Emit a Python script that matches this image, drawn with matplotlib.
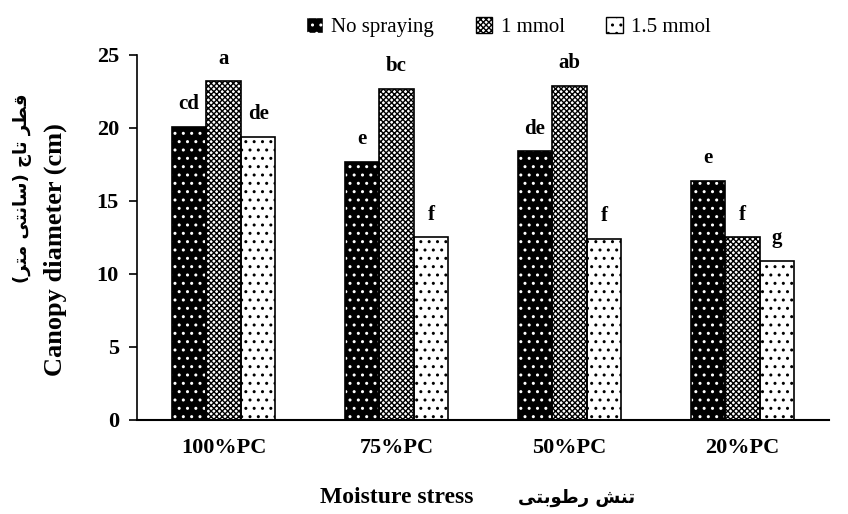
import numpy as np
import matplotlib.pyplot as plt
from matplotlib.patches import Patch

plt.rcParams['font.family'] = ['Liberation Serif', 'DejaVu Sans']
plt.rcParams['hatch.linewidth'] = 1.0

# data
groups = ['100%PC', '75%PC', '50%PC', '20%PC']
series = ['No spraying', '1 mmol', '1.5 mmol']
no_spray = [20.1, 17.7, 18.4, 16.4]
mmol_1 = [23.2, 22.7, 22.9, 12.5]
mmol_15 = [19.4, 12.5, 12.4, 10.9]
letters_no = ['cd', 'e', 'de', 'e']
letters_1 = ['a', 'bc', 'ab', 'f']
letters_15 = ['de', 'f', 'f', 'g']

# Persian text written in shaped presentation forms, visual order
ylabel_fa = ('(\uFEAE\uFE98\uFEE3 \uFEF0\uFE98\uFEE7\uFE8E\uFEB3) '
             '\uFE9D\uFE8E\uFE97 \uFEAE\uFEC4\uFED7')
xlabel_fa = '\uFEF0\uFE98\uFE91\uFEEE\uFEC3\uFEAD \uFEB6\uFEE8\uFE97'

fig = plt.figure(figsize=(8.48, 5.14), dpi=100)
ax = fig.add_axes([0.1616, 0.183, 0.816, 0.71])

x = np.arange(len(groups))
w = 0.2
styles = [
    dict(face='black', hatchcol='white', hatch='..'),
    dict(face='white', hatchcol='black', hatch='xxxxxx'),
    dict(face='white', hatchcol='black', hatch='..'),
]
data = [no_spray, mmol_1, mmol_15]
letters = [letters_no, letters_1, letters_15]

for i, (vals, st, lab) in enumerate(zip(data, styles, letters)):
    pos = x + (i - 1) * w
    ax.bar(pos, vals, w, color=st['face'], edgecolor=st['hatchcol'],
           hatch=st['hatch'], linewidth=0, zorder=2)
    ax.bar(pos, vals, w, fill=False, edgecolor='black', linewidth=1.2, zorder=3)
    for p, v, t in zip(pos, vals, lab):
        ax.annotate(t, (p, v), xytext=(0, 9), textcoords='offset points',
                    ha='center', va='bottom', fontsize=15, fontweight='bold')

ax.set_xlim(-0.5, 3.5)
ax.set_ylim(0, 25)
ax.set_yticks([0, 5, 10, 15, 20, 25])
ax.set_xticks(x)
ax.set_xticklabels(groups, fontsize=16, fontweight='bold')
ax.tick_params(axis='x', length=0, pad=13)
ax.tick_params(axis='y', labelsize=16, length=6, width=1.2, pad=7)
for t in ax.get_yticklabels():
    t.set_fontweight('bold')
for s in ['top', 'right']:
    ax.spines[s].set_visible(False)
ax.spines['left'].set_linewidth(1.2)
ax.spines['bottom'].set_linewidth(1.5)

# axis titles
fig.text(0.065, 0.514, 'Canopy diameter (cm)', rotation=90, ha='center',
         va='center', fontsize=19, fontweight='bold')
fig.text(0.026, 0.634, ylabel_fa, rotation=90, ha='center', va='center',
         fontsize=13, fontweight='bold', family=['DejaVu Sans'])
fig.text(0.468, 0.033, 'Moisture stress', ha='center', va='center',
         fontsize=17, fontweight='bold')
fig.text(0.680, 0.031, xlabel_fa, ha='center', va='center',
         fontsize=13, fontweight='bold', family=['DejaVu Sans'])

handles = [Patch(facecolor=st['face'], edgecolor=st['hatchcol'], hatch=st['hatch'])
           for st in styles]
leg = fig.legend(handles, series, loc='center', bbox_to_anchor=(0.6, 0.947),
                 ncol=3, frameon=False, fontsize=15, handlelength=0.8,
                 handleheight=0.8, handletextpad=0.4, columnspacing=2.0)

fig.savefig('out.png', dpi=100)
